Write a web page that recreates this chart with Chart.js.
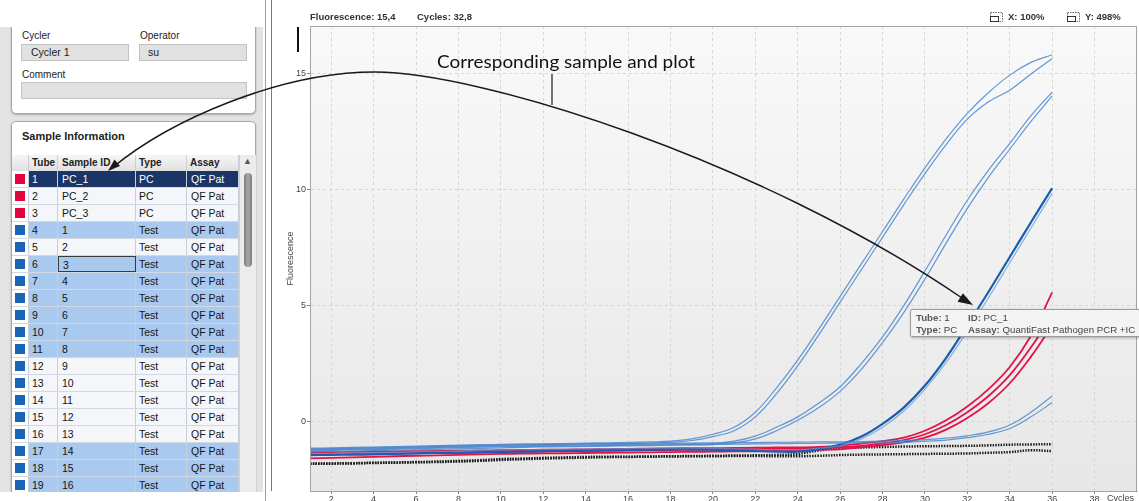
<!DOCTYPE html>
<html><head><meta charset="utf-8">
<script src="https://cdn.jsdelivr.net/npm/chart.js@4.4.1/dist/chart.umd.min.js"></script>
<style>
html,body{margin:0;padding:0;width:1139px;height:501px;overflow:hidden;background:#fff;font-family:"Liberation Sans",Arial,sans-serif;}
.abs{position:absolute;}
#leftbg{left:0;top:27px;width:263px;height:465px;background:#e3e3e3;}
.panel{position:absolute;background:#fff;border:1px solid #a8a8a8;border-radius:5px;box-shadow:0 1px 2px rgba(0,0,0,0.25);box-sizing:border-box;}
.lbl{position:absolute;font-size:10px;color:#222;}
.box{position:absolute;background:#e1e1e1;border:1px solid #c2c2c2;box-sizing:border-box;font-size:10.5px;line-height:15px;color:#222;}
#tbl{position:absolute;left:12px;top:155px;width:227px;}
.row{position:absolute;left:0;width:227px;height:17px;box-sizing:border-box;border-bottom:1px solid #d3d9e2;font-size:10.5px;line-height:16px;color:#151515;}
.cell{position:absolute;top:0;height:16px;box-sizing:border-box;border-right:1px solid #c9cfd8;white-space:nowrap;overflow:hidden;}
.sw{position:absolute;left:3px;top:3px;width:10px;height:10px;}
.hdr{font-weight:bold;font-size:10px;background:linear-gradient(#f6f6f6,#e0e0e0);color:#222;border-bottom:1px solid #bcbcbc;}
#chartwrap{position:absolute;left:270px;top:0;width:869px;height:501px;}
.top{position:absolute;top:11px;font-size:9.5px;font-weight:bold;color:#333;}
#tip{position:absolute;left:910px;top:309px;width:250px;height:28px;background:#f3f3f3;border:1px solid #9a9a9a;border-radius:2px;box-shadow:1px 1px 3px rgba(0,0,0,0.3);box-sizing:border-box;font-size:9.7px;color:#444;}
#tip span{position:absolute;white-space:nowrap;}
#tip b{color:#5a5a5a;}
</style></head>
<body>
<div id="leftbg" class="abs"></div>
<div class="panel" style="left:11px;top:0;width:245px;height:114px;"></div>
<div class="abs" style="left:0;top:0;width:265px;height:27px;background:#fff;"></div>
<div class="lbl" style="left:22px;top:30px;">Cycler</div>
<div class="box" style="left:21px;top:44px;width:108px;height:17px;padding-left:9px;">Cycler 1</div>
<div class="lbl" style="left:140px;top:30px;">Operator</div>
<div class="box" style="left:139px;top:44px;width:108px;height:17px;padding-left:8px;">su</div>
<div class="lbl" style="left:22px;top:69px;">Comment</div>
<div class="box" style="left:21px;top:82px;width:226px;height:17px;"></div>
<div class="panel" style="left:11px;top:121px;width:245px;height:400px;"></div>
<div class="lbl" style="left:22px;top:130px;font-size:11px;font-weight:bold;">Sample Information</div>
<div id="tbl"></div>
<div class="abs" style="left:239px;top:155px;width:17px;height:337px;background:#ececec;border-left:1px solid #d0d0d0;box-sizing:border-box;"></div>
<div class="abs" style="left:243px;top:156px;font-size:9px;color:#555;">&#9650;</div>
<div class="abs" style="left:244px;top:173px;width:8px;height:94px;border-radius:4px;background:linear-gradient(90deg,#7d7d7d,#a9a9a9,#7d7d7d);"></div>
<div class="abs" style="left:0;top:492px;width:265px;height:9px;background:#fff;"></div>
<div class="abs" style="left:265px;top:0;width:1px;height:501px;background:#a0a0a0;"></div>

<div id="chartwrap"><canvas id="c" width="869" height="501"></canvas></div>
<div class="abs" style="left:271px;top:0;width:1px;height:491px;background:#7a7a7a;"></div>

<div class="top" style="left:310px;">Fluorescence: 15,4</div>
<div class="top" style="left:417px;">Cycles: 32,8</div>
<svg class="abs" style="left:990px;top:12px;" width="14" height="11"><rect x="0.5" y="0.5" width="12" height="9" fill="none" stroke="#666" stroke-dasharray="1.5,1"/><rect x="0.5" y="4.5" width="8" height="5" fill="none" stroke="#333"/></svg>
<div class="top" style="left:1008px;">X: 100%</div>
<svg class="abs" style="left:1067px;top:12px;" width="14" height="11"><rect x="0.5" y="0.5" width="12" height="9" fill="none" stroke="#666" stroke-dasharray="1.5,1"/><rect x="0.5" y="4.5" width="8" height="5" fill="none" stroke="#333"/></svg>
<div class="top" style="left:1085px;">Y: 498%</div>

<div id="tip">
<span style="left:5px;top:2px;"><b>Tube:</b> 1</span>
<span style="left:57px;top:2px;"><b>ID:</b> PC_1</span>
<span style="left:5px;top:14px;"><b>Type:</b> PC</span>
<span style="left:57px;top:14px;"><b>Assay:</b> QuantiFast Pathogen PCR +IC</span>
</div>

<svg class="abs" style="left:0;top:0;pointer-events:none;" width="1139" height="501">
<path d="M112,168 C170,120 280,72 375,72 C480,72 760,160 962,298" fill="none" stroke="#1a1a1a" stroke-width="1.5"/>
<polygon points="108,171 120,166 114.5,159.5" fill="#1a1a1a"/>
<polygon points="973,305 957.5,301.7 962.9,293.3" fill="#1a1a1a"/>
<line x1="552" y1="74" x2="552" y2="105" stroke="#1a1a1a" stroke-width="1.2"/>
<rect x="297" y="27" width="2" height="25" fill="#111"/>
<text x="437" y="68" font-family="Lato, 'Open Sans', sans-serif" font-size="18" textLength="258" lengthAdjust="spacingAndGlyphs" fill="#111">Corresponding sample and plot</text>
</svg>

<script>
// ---- Table data ----
const tubes = ["1","2","3","4","5","6","7","8","9","10","11","12","13","14","15","16","17","18","19"];
const sampleIds = ["PC_1","PC_2","PC_3","1","2","3","4","5","6","7","8","9","10","11","12","13","14","15","16"];
const types = ["PC","PC","PC","Test","Test","Test","Test","Test","Test","Test","Test","Test","Test","Test","Test","Test","Test","Test","Test"];
const assays = ["QF Pat","QF Pat","QF Pat","QF Pat","QF Pat","QF Pat","QF Pat","QF Pat","QF Pat","QF Pat","QF Pat","QF Pat","QF Pat","QF Pat","QF Pat","QF Pat","QF Pat","QF Pat","QF Pat"];
const rowState = ["sel","w","w","b","w","b","b","b","b","b","b","w","w","w","w","w","b","b","b"];
const headers = ["","Tube","Sample ID","Type","Assay"];

// ---- Chart data ----
const cycles = [1,2,3,4,5,6,7,8,9,10,11,12,13,14,15,16,17,18,19,20,21,22,23,24,25,26,27,28,29,30,31,32,33,34,35,36];
const xTickValues = [2,4,6,8,10,12,14,16,18,20,22,24,26,28,30,32,34,36,38];
const yTickValues = [0,5,10,15];
const a1 = [-1.15,-1.14,-1.12,-1.10,-1.08,-1.06,-1.04,-1.02,-1.00,-0.99,-0.97,-0.96,-0.95,-0.93,-0.92,-0.90,-0.88,-0.85,-0.75,-0.55,-0.25,0.40,1.45,2.65,4.00,5.40,6.80,8.20,9.60,10.95,12.20,13.30,14.20,14.95,15.50,15.83];
const a2 = [-1.20,-1.19,-1.17,-1.15,-1.13,-1.11,-1.09,-1.07,-1.05,-1.03,-1.01,-1.00,-0.99,-0.97,-0.96,-0.95,-0.93,-0.90,-0.82,-0.65,-0.40,0.20,1.20,2.40,3.75,5.15,6.55,7.95,9.35,10.70,11.95,13.05,13.80,14.30,15.00,15.66];
const b1 = [-1.22,-1.21,-1.20,-1.18,-1.16,-1.14,-1.12,-1.10,-1.08,-1.06,-1.05,-1.04,-1.03,-1.01,-1.00,-0.99,-0.98,-0.97,-0.96,-0.95,-0.85,-0.63,-0.25,0.20,0.80,1.50,2.50,3.65,5.00,6.50,8.05,9.55,10.85,12.00,13.20,14.22];
const b2 = [-1.30,-1.29,-1.28,-1.26,-1.24,-1.22,-1.20,-1.18,-1.16,-1.14,-1.12,-1.10,-1.09,-1.08,-1.06,-1.05,-1.04,-1.02,-1.01,-1.00,-0.92,-0.75,-0.40,0.05,0.60,1.30,2.25,3.40,4.70,6.15,7.70,9.20,10.55,11.75,12.95,14.05];
const c1 = [-1.45,-1.44,-1.43,-1.42,-1.40,-1.38,-1.36,-1.35,-1.33,-1.31,-1.30,-1.28,-1.27,-1.26,-1.25,-1.24,-1.22,-1.20,-1.20,-1.22,-1.25,-1.28,-1.30,-1.30,-1.20,-1.00,-0.65,-0.10,0.60,1.55,2.75,4.15,5.60,7.10,8.60,10.07];
const c2 = [-1.38,-1.37,-1.36,-1.34,-1.32,-1.30,-1.28,-1.27,-1.25,-1.24,-1.22,-1.21,-1.20,-1.19,-1.18,-1.17,-1.16,-1.15,-1.15,-1.16,-1.18,-1.20,-1.22,-1.22,-1.15,-1.05,-0.75,-0.25,0.45,1.40,2.55,3.90,5.35,6.85,8.35,9.85];
const d1 = [-1.18,-1.17,-1.15,-1.13,-1.11,-1.09,-1.07,-1.05,-1.03,-1.01,-1.00,-0.99,-0.98,-0.97,-0.96,-0.95,-0.94,-0.93,-0.93,-0.92,-0.92,-0.91,-0.90,-0.89,-0.88,-0.88,-0.87,-0.85,-0.82,-0.78,-0.72,-0.62,-0.45,-0.15,0.40,1.10];
const d2 = [-1.26,-1.25,-1.23,-1.21,-1.19,-1.17,-1.15,-1.13,-1.11,-1.09,-1.08,-1.07,-1.06,-1.05,-1.04,-1.03,-1.02,-1.01,-1.00,-0.99,-0.98,-0.97,-0.96,-0.95,-0.94,-0.93,-0.92,-0.92,-0.90,-0.85,-0.80,-0.70,-0.55,-0.30,0.20,0.82];
const r1 = [-1.33,-1.32,-1.31,-1.30,-1.29,-1.28,-1.27,-1.26,-1.25,-1.24,-1.23,-1.22,-1.21,-1.20,-1.19,-1.18,-1.17,-1.16,-1.15,-1.15,-1.14,-1.13,-1.12,-1.12,-1.10,-1.05,-0.95,-0.85,-0.70,-0.40,0.05,0.65,1.40,2.35,3.70,5.57];
const r2 = [-1.42,-1.41,-1.40,-1.39,-1.38,-1.37,-1.36,-1.35,-1.33,-1.32,-1.31,-1.30,-1.28,-1.27,-1.26,-1.25,-1.24,-1.23,-1.22,-1.21,-1.20,-1.19,-1.18,-1.16,-1.14,-1.12,-1.05,-0.95,-0.80,-0.55,-0.15,0.40,1.10,2.00,3.20,4.60];
const r3 = [-1.59,-1.57,-1.55,-1.53,-1.50,-1.48,-1.46,-1.44,-1.42,-1.40,-1.39,-1.38,-1.37,-1.36,-1.35,-1.34,-1.33,-1.32,-1.31,-1.30,-1.29,-1.28,-1.27,-1.25,-1.22,-1.20,-1.12,-1.02,-0.90,-0.70,-0.35,0.15,0.80,1.65,2.80,4.15];
const k1 = [-1.82,-1.81,-1.80,-1.78,-1.77,-1.75,-1.73,-1.70,-1.67,-1.62,-1.60,-1.57,-1.55,-1.53,-1.52,-1.52,-1.51,-1.50,-1.49,-1.48,-1.47,-1.46,-1.44,-1.40,-1.25,-1.15,-1.12,-1.10,-1.08,-1.07,-1.06,-1.05,-1.03,-1.00,-0.99,-0.98];
const k2 = [-1.83,-1.82,-1.81,-1.79,-1.78,-1.76,-1.75,-1.73,-1.70,-1.66,-1.63,-1.60,-1.58,-1.56,-1.54,-1.53,-1.52,-1.51,-1.50,-1.50,-1.49,-1.49,-1.50,-1.50,-1.48,-1.45,-1.43,-1.42,-1.41,-1.40,-1.39,-1.38,-1.35,-1.32,-1.24,-1.28];

// ---- build table ----
const colX = [0,17,46,124,175];
const colW = [17,29,78,51,52];
const tbl = document.getElementById('tbl');
const hdr = document.createElement('div');
hdr.className = 'row hdr'; hdr.style.top = '0px';
headers.forEach((h,i)=>{const c=document.createElement('div');c.className='cell';c.style.left=colX[i]+'px';c.style.width=colW[i]+'px';c.style.paddingLeft=(i===2?4:3)+'px';c.textContent=h;hdr.appendChild(c);});
tbl.appendChild(hdr);
tubes.forEach((t,r)=>{
  const row=document.createElement('div');row.className='row';row.style.top=(16+r*17)+'px';
  const st=rowState[r];
  const bg = st==='sel'?'#1c3567':(st==='b'?'#a9c9ef':'#f4f6fa');
  row.style.background=bg; if(st==='sel'){row.style.color='#fff';}
  const vals=['',t,sampleIds[r],types[r],assays[r]];
  vals.forEach((v,i)=>{const c=document.createElement('div');c.className='cell';c.style.left=colX[i]+'px';c.style.width=colW[i]+'px';c.style.paddingLeft=(i===2||i===4?4:3)+'px';
    if(i===0){c.style.background='#fff';const s=document.createElement('div');s.className='sw';s.style.background=(types[r]==='PC')?'#e3043f':'#1b63b5';c.appendChild(s);} else c.textContent=v;
    if(r===5&&i===2){c.style.border='1px solid #3a3a3a';}
    row.appendChild(c);});
  tbl.appendChild(row);
});

// ---- chart ----
const pts = arr => arr.map((v,i)=>({x:cycles[i],y:v}));
const lightBlue='rgba(74,134,206,0.85)', darkBlue='#1a5dad', red='#e2124a', blk='#1e1e1e';
const ds = (arr,color,w,dash)=>({data:pts(arr),borderColor:color,borderWidth:w,borderDash:dash||[],pointRadius:0,fill:false,tension:0.4});
const bgPlugin={id:'bg',beforeDraw(ch){const a=ch.chartArea,ctx=ch.ctx;const g=ctx.createLinearGradient(0,a.top,0,a.bottom);g.addColorStop(0,'#f9f9f9');g.addColorStop(1,'#e7e7e7');ctx.save();ctx.fillStyle=g;ctx.fillRect(a.left,a.top,a.right-a.left,a.bottom-a.top);ctx.restore();},
  afterDraw(ch){const a=ch.chartArea,ctx=ch.ctx;ctx.save();ctx.strokeStyle='#a4a4a4';ctx.lineWidth=1;ctx.strokeRect(a.left+0.5,a.top+0.5,a.right-a.left-1,a.bottom-a.top);
    ctx.fillStyle='#444';ctx.font='9px "Liberation Sans", Arial';ctx.textBaseline='top';ctx.fillText('Cycles',a.right-30,a.bottom+3);ctx.restore();}};
new Chart(document.getElementById('c'),{
  type:'line',
  data:{datasets:[ds(a1,lightBlue,1.2),ds(a2,lightBlue,1.2),ds(b1,lightBlue,1.2),ds(b2,lightBlue,1.2),ds(d1,lightBlue,1.2),ds(d2,lightBlue,1.2),ds(c2,'rgba(90,148,214,0.7)',1.2),ds(c1,darkBlue,2.2),
    ds(r1,red,1.8),ds(r2,red,1.8),ds(r3,red,1.8),ds(k1,blk,2.5,[1.5,1.2]),ds(k2,blk,2.5,[1.5,1.2])]},
  options:{responsive:false,animation:false,maintainAspectRatio:false,
    layout:{padding:{top:26,right:2,left:0,bottom:0}},
    plugins:{legend:{display:false},tooltip:{enabled:false}},
    scales:{
      x:{type:'linear',min:1,max:40,
        afterBuildTicks:s=>{s.ticks=xTickValues.map(v=>({value:v}));},
        afterFit:s=>{s.height=10;},
        ticks:{font:{size:9,family:'"Liberation Sans", Arial'},color:'#444',padding:0,maxRotation:0,autoSkip:false},
        grid:{color:'#d6d6d6',tickColor:'#888',tickLength:3},
        border:{display:true,color:'#a4a4a4',dash:[3,3]}},
      y:{type:'linear',min:-3,max:17.07,
        afterBuildTicks:s=>{s.ticks=yTickValues.map(v=>({value:v}));},
        afterFit:s=>{s.width=40;},
        ticks:{font:{size:9,family:'"Liberation Sans", Arial'},color:'#444',padding:1},
        grid:{color:'#d6d6d6',tickColor:'#888',tickLength:3},
        border:{display:true,color:'#a4a4a4',dash:[3,3]},
        title:{display:true,text:'Fluorescence',font:{size:9,family:'"Liberation Sans", Arial'},color:'#444',padding:{top:15,bottom:0}}}
    }},
  plugins:[bgPlugin]
});
</script>
</body></html>
